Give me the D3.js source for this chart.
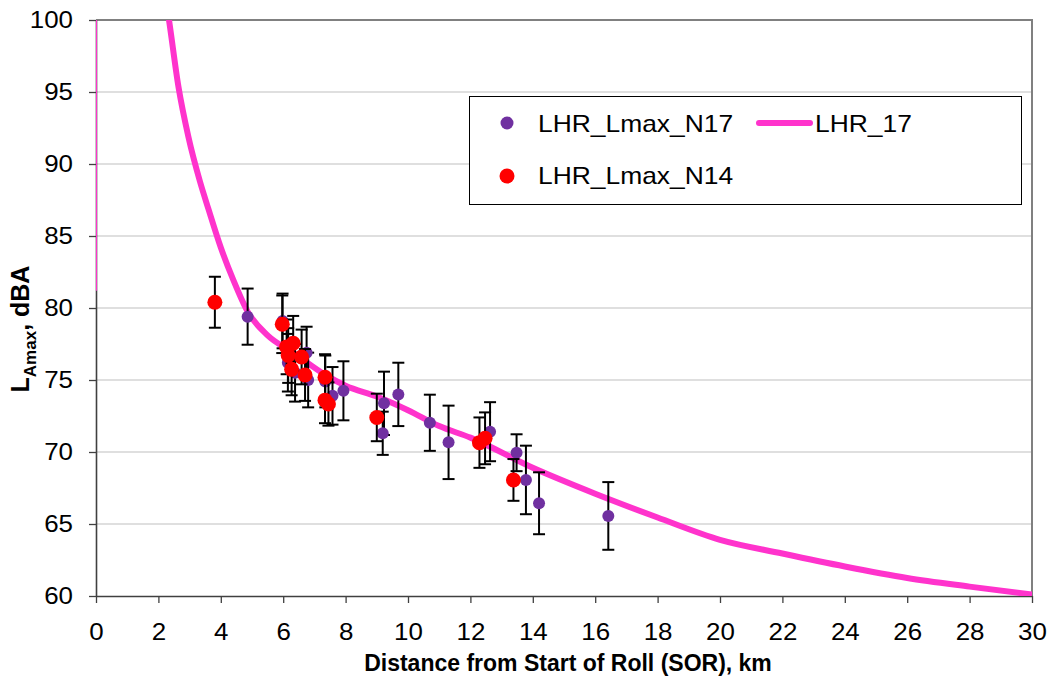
<!DOCTYPE html>
<html>
<head>
<meta charset="utf-8">
<script src="https://cdn.jsdelivr.net/npm/d3@7"></script>
<style>
    body { margin: 0; background: #fff; }
    svg { display: block; font-family: 'Liberation Sans', Arial, sans-serif; }
</style>
</head>
<body>
<svg id="chart" width="1051" height="681"></svg>
<script>
//----------DATA----------

// [distance km, LAmax dBA, error half-width]
var lmaxN17 = [
    [4.86, 79.4, 1.95], [5.98, 79.1, 1.9], [6.15, 76.2, 2.0], [6.38, 75.5, 2.0],
    [6.75, 76.9, 1.8], [6.8, 75.0, 1.9], [7.35, 74.9, 1.8], [7.58, 73.9, 2.0],
    [7.93, 74.25, 2.05], [9.19, 71.3, 1.5], [9.23, 73.38, 2.2], [9.69, 74.0, 2.2],
    [10.7, 72.03, 1.95], [11.3, 70.67, 2.55], [12.63, 71.41, 2.05], [13.48, 69.95, 1.28],
    [13.78, 68.06, 2.38], [14.2, 66.44, 2.15], [16.42, 65.56, 2.35]
];

var lmaxN14 = [
    [3.81, 80.4, 1.77], [5.97, 78.87, 2.0], [6.11, 77.3, 1.9], [6.32, 77.55, 1.9],
    [6.16, 76.7, 1.9], [6.59, 76.6, 1.9], [6.27, 75.74, 1.8], [6.7, 75.35, 1.8],
    [7.34, 75.19, 1.6], [7.34, 73.6, 1.6], [7.45, 73.33, 1.5], [9.0, 72.4, 1.65],
    [12.29, 70.65, 1.75], [12.47, 70.95, 1.8], [13.38, 68.06, 1.45]
];

// LHR_17 noise-distance curve
var lhr17 = [
    [2.2, 102], [2.34, 100], [2.64, 95.4], [2.96, 91.9], [3.33, 88.8], [3.6, 86.9],
    [4.0, 84.2], [4.4, 81.95], [4.86, 79.75], [5.5, 78.1], [6.32, 76.9], [7.39, 75.3],
    [8, 74.6], [9, 73.85], [10, 72.9], [11, 71.8], [12, 71.0], [14, 68.9], [16, 67.1],
    [18, 65.45], [20, 63.9], [22, 62.95], [24, 62.05], [26, 61.25], [28, 60.65],
    [30, 60.1]
];
// thin segment of the curve hugging the y axis
var lhr17Edge = [[0, 81.2], [0, 100]];

var xTicks = d3.range(0, 31, 2);
var yTicks = d3.range(60, 101, 5);

var seriesNames = ['LHR_Lmax_N17', 'LHR_17', 'LHR_Lmax_N14'];
var colors = {n17: '#7030a0', n14: '#ff0000', curve: '#ff33cc'};

//----------SETUP----------

var svg = d3.select('#chart');
var plot = {left: 96, right: 1032, top: 20, bottom: 596};

var x = d3.scaleLinear().domain([0, 30]).range([plot.left, plot.right]);
var y = d3.scaleLinear().domain([60, 100]).range([plot.bottom, plot.top]);

// text in the original is a bit wider than Arial, stretch it
function stretch(sel, k) {
    sel.each(function() {
        var len = this.getComputedTextLength();
        d3.select(this).attr('textLength', len * k).attr('lengthAdjust', 'spacingAndGlyphs');
    });
}

svg.append('defs').append('clipPath').attr('id', 'plotClip')
    .append('rect')
    .attr('x', plot.left).attr('y', plot.top)
    .attr('width', plot.right - plot.left).attr('height', plot.bottom - plot.top);

//----------GRID AND FRAME----------

svg.append('g').selectAll('line')
    .data(yTicks.filter(function(d) { return d > 60 && d < 100; }))
    .enter().append('line')
    .attr('x1', plot.left).attr('x2', plot.right)
    .attr('y1', function(d) { return y(d); }).attr('y2', function(d) { return y(d); })
    .attr('stroke', '#c0c0c0').attr('stroke-width', 1.2);

// top and right border are grey in the original
svg.append('path')
    .attr('d', 'M' + plot.left + ',' + y(100) + 'H' + plot.right + 'V' + plot.bottom)
    .attr('fill', 'none').attr('stroke', '#808080').attr('stroke-width', 2);

//----------AXES----------

var xAxis = svg.append('g')
    .attr('transform', 'translate(0,' + plot.bottom + ')')
    .call(d3.axisBottom(x).tickValues(xTicks).tickSize(7).tickSizeOuter(0).tickPadding(20));

var yAxis = svg.append('g')
    .attr('transform', 'translate(' + plot.left + ',0)')
    .call(d3.axisLeft(y).tickValues(yTicks).tickSize(7).tickSizeOuter(0).tickPadding(16));

[xAxis, yAxis].forEach(function(ax) {
    ax.select('.domain').attr('stroke', '#404040').attr('stroke-width', 1.6);
    ax.selectAll('.tick line').attr('stroke', '#404040').attr('stroke-width', 1.3);
    ax.selectAll('.tick text')
        .attr('fill', '#000')
        .style('font-size', '24px')
        .style('font-family', "'Liberation Sans', Arial, sans-serif");
    stretch(ax.selectAll('.tick text'), 1.08);
});

svg.append('text')
    .attr('x', 568)
    .attr('y', 671)
    .attr('text-anchor', 'middle')
    .style('font-size', '23px').style('font-weight', 'bold')
    .text('Distance from Start of Roll (SOR), km');

var yTitle = svg.append('text')
    .attr('transform', 'translate(29,329) rotate(-90)')
    .attr('text-anchor', 'middle')
    .style('font-size', '25px').style('font-weight', 'bold');
yTitle.append('tspan').text('L');
yTitle.append('tspan').attr('dy', 7).style('font-size', '17px').text('Amax');
yTitle.append('tspan').attr('dy', -7).text(', dBA');

//----------SERIES----------

var layer = svg.append('g').attr('clip-path', 'url(#plotClip)');

var line = d3.line()
    .x(function(d) { return x(d[0]); })
    .y(function(d) { return y(d[1]); });

layer.append('path').datum(lhr17Edge)
    .attr('d', line).attr('fill', 'none')
    .attr('stroke', colors.curve).attr('stroke-width', 2);

layer.append('path').datum(lhr17)
    .attr('d', line.curve(d3.curveMonotoneX)).attr('fill', 'none')
    .attr('stroke', colors.curve).attr('stroke-width', 6)
    .attr('stroke-linejoin', 'round');

function drawErrorBars(data) {
    var g = svg.append('g').attr('stroke', '#000').attr('stroke-width', 2);
    var cap = 6;
    data.forEach(function(d) {
        var cx = x(d[0]), top = y(d[1] + d[2]), bot = y(d[1] - d[2]);
        g.append('line').attr('x1', cx).attr('x2', cx).attr('y1', top).attr('y2', bot);
        g.append('line').attr('x1', cx - cap).attr('x2', cx + cap).attr('y1', top).attr('y2', top);
        g.append('line').attr('x1', cx - cap).attr('x2', cx + cap).attr('y1', bot).attr('y2', bot);
    });
}

function drawMarkers(data, color, r) {
    svg.append('g').selectAll('circle')
        .data(data)
        .enter().append('circle')
        .attr('cx', function(d) { return x(d[0]); })
        .attr('cy', function(d) { return y(d[1]); })
        .attr('r', r)
        .attr('fill', color);
}

drawErrorBars(lmaxN17);
drawMarkers(lmaxN17, colors.n17, 6);
drawErrorBars(lmaxN14);
drawMarkers(lmaxN14, colors.n14, 7.5);

//----------LEGEND----------

var legend = svg.append('g');
legend.append('rect')
    .attr('x', 469.5).attr('y', 96.5).attr('width', 552).attr('height', 108)
    .attr('fill', '#fff').attr('stroke', '#000').attr('stroke-width', 1);

legend.append('circle').attr('cx', 507).attr('cy', 123).attr('r', 6.5).attr('fill', colors.n17);
legend.append('text').attr('x', 538).attr('y', 132).text(seriesNames[0]);

legend.append('line')
    .attr('x1', 759).attr('x2', 810).attr('y1', 123).attr('y2', 123)
    .attr('stroke', colors.curve).attr('stroke-width', 6).attr('stroke-linecap', 'round');
legend.append('text').attr('x', 815).attr('y', 132).text(seriesNames[1]);

legend.append('circle').attr('cx', 507).attr('cy', 176).attr('r', 7.5).attr('fill', colors.n14);
legend.append('text').attr('x', 538).attr('y', 184).text(seriesNames[2]);

legend.selectAll('text').style('font-size', '24px');
stretch(legend.selectAll('text'), 1.1);
</script>
</body>
</html>
